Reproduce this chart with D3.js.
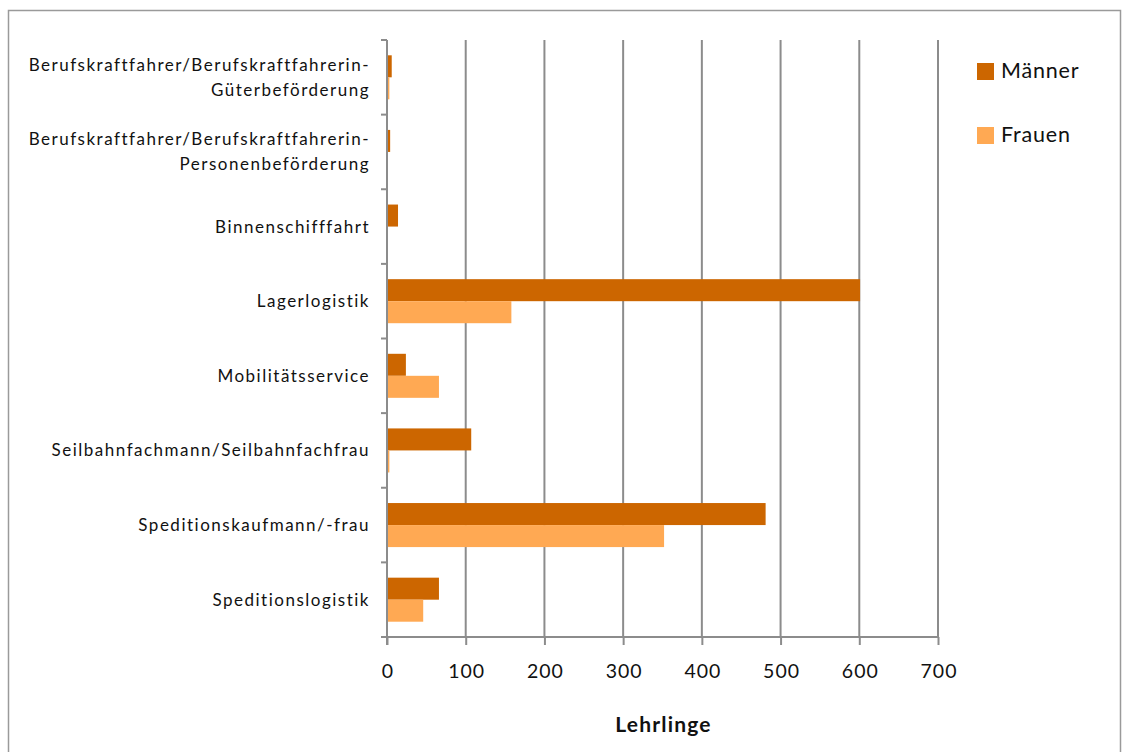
<!DOCTYPE html>
<html><head><meta charset="utf-8">
<script src="https://cdn.jsdelivr.net/npm/d3@7"></script>
<style>body{margin:0;background:#fff}svg{display:block}</style>
</head><body>
<script>
const categories = [
  ["Berufskraftfahrer/Berufskraftfahrerin-","Güterbeförderung"],
  ["Berufskraftfahrer/Berufskraftfahrerin-","Personenbeförderung"],
  ["Binnenschifffahrt"],
  ["Lagerlogistik"],
  ["Mobilitätsservice"],
  ["Seilbahnfachmann/Seilbahnfachfrau"],
  ["Speditionskaufmann/-frau"],
  ["Speditionslogistik"]
];
const maenner = [6, 4, 14, 601, 24, 107, 481, 66];
const frauen  = [3, 0, 0, 158, 66, 3, 352, 46];
const seriesNames = ["Männer", "Frauen"];
const xTicks = [0,100,200,300,400,500,600,700];
const axisTitle = "Lehrlinge";

(function(){
const W = 1123, H = 752;
const colors = ["#CC6600", "#FFA953"];
const font = "Lato, 'Open Sans', sans-serif";
const svg = d3.select("body").append("svg").attr("width", W).attr("height", H);

// frame
svg.append("rect").attr("x", 8.5).attr("y", 10.5).attr("width", 1112).attr("height", 760)
  .attr("fill", "none").attr("stroke", "#9a9a9a").attr("stroke-width", 1.5);

const pLeft = 387, pRight = 938, pTop = 40, pBottom = 637;
const x = d3.scaleLinear().domain([0, 700]).range([pLeft, pRight]);
const y = d3.scaleBand().domain(d3.range(categories.length)).range([pTop, pBottom]);
const bw = y.bandwidth();
const barH = bw * 0.295;

// gridlines
svg.append("g").selectAll("line").data(xTicks.slice(1)).join("line")
  .attr("x1", d => x(d)).attr("x2", d => x(d)).attr("y1", pTop).attr("y2", pBottom)
  .attr("stroke", "#8c8c8c").attr("stroke-width", 2);

// bars
const data = [maenner, frauen];
data.forEach((vals, s) => {
  svg.append("g").selectAll("rect").data(vals).join("rect")
    .attr("x", x(0))
    .attr("y", (d, i) => y(i) + bw/2 - barH + s*barH)
    .attr("width", d => x(d) - x(0))
    .attr("height", barH)
    .attr("fill", colors[s]);
});

// x axis
const xAxis = svg.append("g").attr("transform", `translate(0,${pBottom})`)
  .call(d3.axisBottom(x).tickValues(xTicks).tickSize(8).tickPadding(0));
xAxis.select(".domain").attr("stroke", "#8c8c8c").attr("stroke-width", 2).attr("d", `M${pLeft},0H${pRight}`);
xAxis.selectAll(".tick line").attr("stroke", "#8c8c8c").attr("stroke-width", 2);
xAxis.selectAll("text").attr("font-family", font).attr("font-size", 19.5)
  .attr("letter-spacing", "1px").attr("fill", "#111")
  .attr("dy", null).attr("y", 41).attr("dx", "0.5px");

// y axis line and ticks
svg.append("line").attr("x1", pLeft).attr("x2", pLeft).attr("y1", pTop).attr("y2", pBottom + 8)
  .attr("stroke", "#8c8c8c").attr("stroke-width", 2);
svg.append("g").selectAll("line").data(d3.range(categories.length + 1)).join("line")
  .attr("x1", pLeft - 6).attr("x2", pLeft)
  .attr("y1", i => pTop + i*bw).attr("y2", i => pTop + i*bw)
  .attr("stroke", "#8c8c8c").attr("stroke-width", 2);

// category labels
categories.forEach((lines, i) => {
  const cy = y(i) + bw/2;
  const n = lines.length;
  const t = svg.append("text").attr("text-anchor", "end").attr("font-family", font)
    .attr("font-size", 17).attr("letter-spacing", "1.5px").attr("fill", "#111");
  lines.forEach((ln, k) => {
    t.append("tspan").attr("x", 370).attr("y", cy + 6 + (k - (n-1)/2) * 25).text(ln);
  });
});

// axis title
svg.append("text").attr("x", (pLeft + pRight)/2 + 1).attr("y", 732).attr("text-anchor", "middle")
  .attr("font-family", font).attr("font-weight", "bold").attr("font-size", 21)
  .attr("letter-spacing", "1.2px").attr("fill", "#111")
  .text(axisTitle);

// legend
seriesNames.forEach((nm, i) => {
  const ly = 63 + i*64;
  svg.append("rect").attr("x", 977).attr("y", ly).attr("width", 17).attr("height", 17).attr("fill", colors[i]);
  svg.append("text").attr("x", 1001).attr("y", ly + 15).attr("font-family", font)
    .attr("font-size", 21.5).attr("letter-spacing", "0.8px").attr("fill", "#111").text(nm);
});
})();
</script>
</body></html>
